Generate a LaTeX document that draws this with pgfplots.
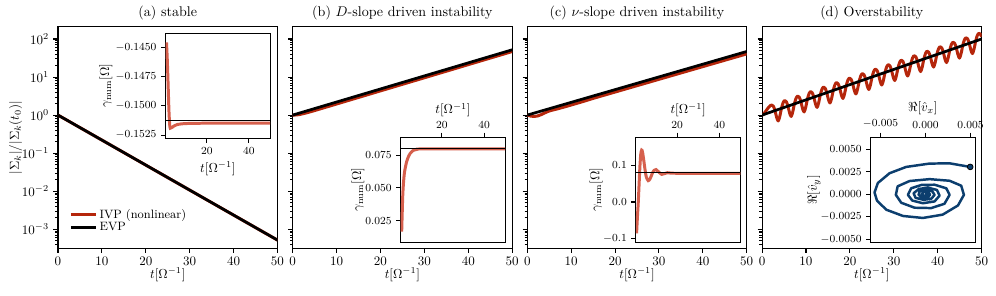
\RequirePackage{fix-cm}
\documentclass[border=0pt]{standalone}
\usepackage{pgfplots}
\pgfplotsset{compat=1.18}
\definecolor{ivp}{HTML}{B5260B}
\definecolor{ivpin}{HTML}{D6604D}
\definecolor{spiral}{HTML}{0C3E6E}
\pgfplotsset{
  every axis/.append style={
    scale only axis,
    scaled ticks=false,
    axis line style={line width=0.8pt},
    tick style={line width=0.8pt, black},
    minor tick style={line width=0.6pt},
    major tick length=3.5pt,
    minor tick length=2pt,
    tick align=outside,
    tick label style={font=\fontsize{10}{12}\selectfont},
    label style={font=\fontsize{10}{12}\selectfont},
    every axis title shift=0pt,
    title style={font=\fontsize{10.8}{13}\selectfont, at={(0.5,1)}, anchor=base, yshift=7.7pt},
  },
}
\begin{document}
\begin{tikzpicture}
\path[use as bounding box] (0,0) rectangle (766pt,226.9pt);

% ---------- (a)
\begin{axis}[at={(44.6pt,36.15pt)}, anchor=south west,
  width=168.8pt, height=170pt,
  xmin=0, xmax=50, ymode=log, ymin=3.2e-4, ymax=207,
  xtick={0,10,20,30,40,50}, xtick pos=bottom, ytick pos=left,
  xlabel={$t[\Omega^{-1}]$},
  xlabel style={at={(axis description cs:0.5,0)}, anchor=base, yshift=-23.6pt},
  title={(a) stable},
  ylabel={$|\Sigma_k|/|\Sigma_k(t_0)|$},
  ylabel style={at={(axis description cs:0,0.5)}, anchor=center, yshift=32.5pt},
  legend style={at={(axis description cs:0,0)}, anchor=south west, xshift=5.5pt, yshift=7.5pt,
    draw=none, fill=none, font=\fontsize{9.3}{11}\selectfont, row sep=-2.2pt},
  legend cell align=left,
  legend image code/.code={\draw[#1] (0pt,0pt) -- (19pt,0pt);}]
\addplot[ivp, line width=2.3pt] coordinates {(0,1) (50,5.17e-4)};
\addlegendentry{IVP (nonlinear)}
\addplot[black, line width=2.1pt] coordinates {(0,1) (50,5.18e-4)};
\addlegendentry{EVP}
\end{axis}

% ---------- (b)
\begin{axis}[at={(225.1pt,36.15pt)}, anchor=south west,
  width=168.8pt, height=170pt,
  xmin=0, xmax=50, ymode=log, ymin=3.2e-4, ymax=207,
  xtick={0,10,20,30,40,50}, xtick pos=bottom, ytick pos=left,
  xlabel={$t[\Omega^{-1}]$},
  xlabel style={at={(axis description cs:0.5,0)}, anchor=base, yshift=-23.6pt},
  title={(b) $D$-slope driven instability}, yticklabels={}]
\addplot[ivp, line width=2.3pt, smooth] coordinates {
(0,1.0) (1,1.010) (2,1.062) (3,1.133) (4,1.218) (5,1.315) (10,1.956) (20,4.33) (30,9.57) (40,21.2) (50,46.8)};
\addplot[black, line width=2.1pt] coordinates {(0,1) (50,52)};
\end{axis}

% ---------- (c)
\begin{axis}[at={(405.5pt,36.15pt)}, anchor=south west,
  width=168.8pt, height=170pt,
  xmin=0, xmax=50, ymode=log, ymin=3.2e-4, ymax=207,
  xtick={0,10,20,30,40,50}, xtick pos=bottom, ytick pos=left,
  xlabel={$t[\Omega^{-1}]$},
  xlabel style={at={(axis description cs:0.5,0)}, anchor=base, yshift=-23.6pt},
  title={(c) $\nu$-slope driven instability}, yticklabels={}]
\addplot[ivp, line width=2.3pt, smooth] coordinates {
(0,1.0) (0.8,0.94) (1.6,0.92) (2.4,0.95) (3.2,1.03) (4,1.14) (4.75,1.25) (5.5,1.33) (6.3,1.40) (8,1.58) (10,1.84) (12.7,2.27) (15.4,2.83) (20,4.03) (30,8.71) (40,18.8) (50,40.6)};
\addplot[black, line width=2.1pt] coordinates {(0,1) (50,47)};
\end{axis}

% ---------- (d)
\begin{axis}[at={(586.1pt,36.15pt)}, anchor=south west,
  width=168.8pt, height=170pt,
  xmin=0, xmax=50, ymode=log, ymin=3.2e-4, ymax=207,
  xtick={0,10,20,30,40,50}, xtick pos=bottom, ytick pos=left,
  xlabel={$t[\Omega^{-1}]$},
  xlabel style={at={(axis description cs:0.5,0)}, anchor=base, yshift=-23.6pt},
  title={(d) Overstability}, yticklabels={}]
\addplot[ivp, line width=2.3pt, smooth, line join=round] coordinates {
(0,1.0) (0.4,1.08) (0.8,1.25) (1.2,1.45) (1.6,1.65) (1.9,1.78)
(2.2,1.837) (2.569,1.715) (2.9375,1.311) (3.306,0.876) (3.675,0.701) (4.044,0.938) (4.4125,1.501) (4.781,2.102)
(5.15,2.410) (5.519,2.250) (5.8875,1.720) (6.256,1.150) (6.625,0.920) (6.994,1.231) (7.3625,1.970) (7.731,2.758)
(8.1,3.163) (8.469,2.953) (8.8375,2.257) (9.206,1.509) (9.575,1.208) (9.944,1.615) (10.3125,2.585) (10.681,3.619)
(11.05,4.150) (11.419,3.874) (11.7875,2.961) (12.156,1.980) (12.525,1.585) (12.894,2.119) (13.2625,3.391) (13.631,4.749)
(14.0,5.446) (14.369,5.084) (14.7375,3.886) (15.106,2.598) (15.475,2.079) (15.844,2.781) (16.2125,4.450) (16.581,6.232)
(16.95,7.146) (17.319,6.671) (17.6875,5.099) (18.056,3.409) (18.425,2.729) (18.794,3.649) (19.1625,5.840) (19.531,8.177)
(19.9,9.378) (20.269,8.754) (20.6375,6.691) (21.006,4.474) (21.375,3.580) (21.744,4.788) (22.1125,7.663) (22.481,10.73)
(22.85,12.31) (23.219,11.49) (23.5875,8.779) (23.956,5.870) (24.325,4.698) (24.694,6.283) (25.0625,10.055) (25.431,14.08)
(25.8,16.15) (26.169,15.07) (26.5375,11.52) (26.906,7.703) (27.275,6.165) (27.644,8.245) (28.0125,13.19) (28.381,18.48)
(28.75,21.19) (29.119,19.78) (29.4875,15.12) (29.856,10.11) (30.225,8.090) (30.594,10.82) (30.9625,17.31) (31.331,24.25)
(31.7,27.80) (32.069,25.96) (32.4375,19.84) (32.806,13.26) (33.175,10.62) (33.544,14.20) (33.9125,22.72) (34.281,31.82)
(34.65,36.48) (35.019,34.06) (35.3875,26.03) (35.756,17.41) (36.125,13.93) (36.494,18.63) (36.8625,29.81) (37.231,41.75)
(37.6,47.88) (37.969,44.69) (38.3375,34.16) (38.706,22.84) (39.075,18.28) (39.444,24.45) (39.8125,39.12) (40.181,54.78)
(40.55,62.82) (40.919,58.65) (41.2875,44.82) (41.656,29.97) (42.025,23.99) (42.394,32.08) (42.7625,51.34) (43.131,71.89)
(43.5,82.44) (43.869,76.96) (44.2375,58.82) (44.606,39.33) (44.975,31.47) (45.344,42.09) (45.7125,67.36) (46.081,94.33)
(46.45,108.2) (46.819,100.98) (47.1875,77.18) (47.556,51.61) (47.925,41.30) (48.294,55.23) (48.6625,88.39) (49.031,123.8)
(49.4,141.9) (49.769,132.5) (50,114.5)};
\addplot[black, line width=2.1pt] coordinates {(0,1) (50,100)};
\end{axis}

% ---------- inset (a)
\begin{axis}[at={(127.4pt,120.5pt)}, anchor=south west,
  width=80.3pt, height=81pt, xmin=0.5, xmax=50,
  tick label style={font=\fontsize{8.33}{10}\selectfont},
  xtick={20,40}, xtick pos=bottom, ytick pos=left,
  axis background/.style={fill=white},
  ylabel={$\gamma_{\rm num}[\Omega]$}, xlabel={$t[\Omega^{-1}]$},
  xlabel style={at={(axis description cs:0.5,0)}, anchor=base, yshift=-25.9pt},
  ylabel style={at={(axis description cs:0,0.5)}, anchor=center, yshift=46pt},
  ymin=-0.15278, ymax=-0.1438,
  ytick={-0.1525,-0.15,-0.1475,-0.145},
  yticklabels={$-0.1525$,$-0.1500$,$-0.1475$,$-0.1450$}]
\addplot[ivpin, line width=2.3pt, smooth] coordinates {
(0.9,-0.1446) (1.3,-0.1462) (1.7,-0.1484) (2.1,-0.1506) (2.5,-0.1518) (2.9,-0.1519) (3.5,-0.15185) (4.5,-0.15172) (6,-0.15160) (10,-0.15152) (20,-0.15149) (50,-0.15149)};
\addplot[black, line width=0.8pt] coordinates {(0.5,-0.15128) (50,-0.15128)};
\end{axis}

% ---------- inset (b)
\begin{axis}[at={(308.2pt,40.4pt)}, anchor=south west,
  width=80.3pt, height=81pt, xmin=0.5, xmax=50,
  tick label style={font=\fontsize{8.33}{10}\selectfont},
  xtick={20,40}, xtick pos=top, xticklabel pos=top, ytick pos=left,
  axis background/.style={fill=white},
  ylabel={$\gamma_{\rm num}[\Omega]$}, xlabel={$t[\Omega^{-1}]$},
  xlabel style={at={(axis description cs:0.5,1)}, anchor=base, yshift=17.9pt},
  ylabel style={at={(axis description cs:0,0.5)}, anchor=center, yshift=33pt},
  ymin=0.0082, ymax=0.0889,
  ytick={0.025,0.05,0.075},
  yticklabels={$0.025$,$0.050$,$0.075$}]
\addplot[ivpin, line width=2.3pt, smooth] coordinates {
(0.95,0.0166) (1.15,0.028) (1.45,0.044) (1.8,0.054) (2.2,0.061) (2.6,0.065) (3.2,0.0695) (3.9,0.073) (4.9,0.0763) (6.2,0.0785) (8.1,0.0795) (12,0.0799) (50,0.0799)};
\addplot[black, line width=0.8pt] coordinates {(0.5,0.0801) (50,0.0801)};
\end{axis}

% ---------- inset (c)
\begin{axis}[at={(489.1pt,40.4pt)}, anchor=south west,
  width=80.3pt, height=81pt, xmin=0.5, xmax=50,
  tick label style={font=\fontsize{8.33}{10}\selectfont},
  xtick={20,40}, xtick pos=top, xticklabel pos=top, ytick pos=left,
  axis background/.style={fill=white},
  ylabel={$\gamma_{\rm num}[\Omega]$}, xlabel={$t[\Omega^{-1}]$},
  xlabel style={at={(axis description cs:0.5,1)}, anchor=base, yshift=17.9pt},
  ylabel style={at={(axis description cs:0,0.5)}, anchor=center, yshift=30.7pt},
  ymin=-0.11, ymax=0.176,
  ytick={-0.1,0,0.1},
  yticklabels={$-0.1$,$0.0$,$0.1$}]
\addplot[ivpin, line width=2.3pt, smooth] coordinates {
(0.8,-0.085) (1.2,-0.04) (1.6,0.0) (2.0,0.05) (2.4,0.099) (2.8,0.131) (3.2,0.141) (3.6,0.136) (4.2,0.113) (4.8,0.088) (5.4,0.068) (6.3,0.058) (7.2,0.063) (8.2,0.077) (9.1,0.086) (10.0,0.088) (11,0.083) (12.7,0.075) (14,0.077) (15.4,0.0795) (17,0.0785) (20,0.078) (50,0.078)};
\addplot[black, line width=0.8pt] coordinates {(0.5,0.0792) (50,0.0792)};
\end{axis}

% ---------- inset (d)
\begin{axis}[at={(669.6pt,40.4pt)}, anchor=south west,
  width=80.3pt, height=81pt,
  tick label style={font=\fontsize{8.33}{10}\selectfont},
  xtick pos=top, xticklabel pos=top, ytick pos=left,
  axis background/.style={fill=white},
  xmin=-0.0061, xmax=0.0055, ymin=-0.00537, ymax=0.00635,
  xtick={-0.005,0,0.005}, xticklabels={$-0.005$,$0.000$,$0.005$},
  ytick={-0.005,-0.0025,0,0.0025,0.005},
  yticklabels={$-0.0050$,$-0.0025$,$0.0000$,$0.0025$,$0.0050$},
  xlabel={$\Re[\hat{v}_x]$}, ylabel={$\Re[\hat{v}_y]$},
  xlabel style={at={(axis description cs:0.5,1)}, anchor=base, yshift=19.5pt},
  ylabel style={at={(axis description cs:0,0.5)}, anchor=center, yshift=43.6pt}]
\addplot[spiral, line width=1.9pt, line join=round] coordinates {
(0.00496,0.00304) (0.00267,0.00344) (0.00044,0.00341) (-0.00215,0.00304) (-0.0040,0.00234) (-0.0053,0.00125) (-0.00567,0.0002) (-0.0054,-0.0007) (-0.00437,-0.00172) (-0.0025,-0.00242) (-0.0003,-0.00264) (0.0019,-0.00227) (0.0036,-0.00125) (0.00426,-0.00007) (0.00396,0.00095) (0.00267,0.0015) (0.00044,0.00168) (-0.00178,0.00147) (-0.0031,0.00088) (-0.0033,-0.00007) (-0.0027,-0.00095) (-0.00122,-0.0015) (0.00063,-0.00154) (0.0021,-0.00106) (0.00267,-0.00007) (0.0023,0.00066) (0.001,0.00106) (-0.00048,0.00103) (-0.0016,0.00066) (-0.00196,-0.00007) (-0.00148,-0.0007) (-0.0003,-0.001) (0.001,-0.0008) (0.00156,-0.00015) (0.00126,0.00048) (0.00026,0.00073) (-0.00074,0.00059) (-0.00133,0.00011) (-0.00111,-0.0004) (-0.00022,-0.00062) (0.00063,-0.00051) (0.001,-0.00007) (0.00074,0.00033) (0,0.00048) (-0.00067,0.00029) (-0.00078,-0.00007) (-0.00037,-0.00037) (0.00026,-0.00033) (0.00052,-0.00004) (0.00026,0.00022) (-0.00022,0.00022) (-0.00044,-0.00004) (-0.00011,-0.00018) (0.00015,-0.00004) (-0.00004,0.00007)};
\addplot[only marks, mark=*, mark size=2.2pt, mark options={fill=spiral, draw=black, line width=0.6pt}] coordinates {(0.00496,0.00304)};
\end{axis}
\end{tikzpicture}
\end{document}
